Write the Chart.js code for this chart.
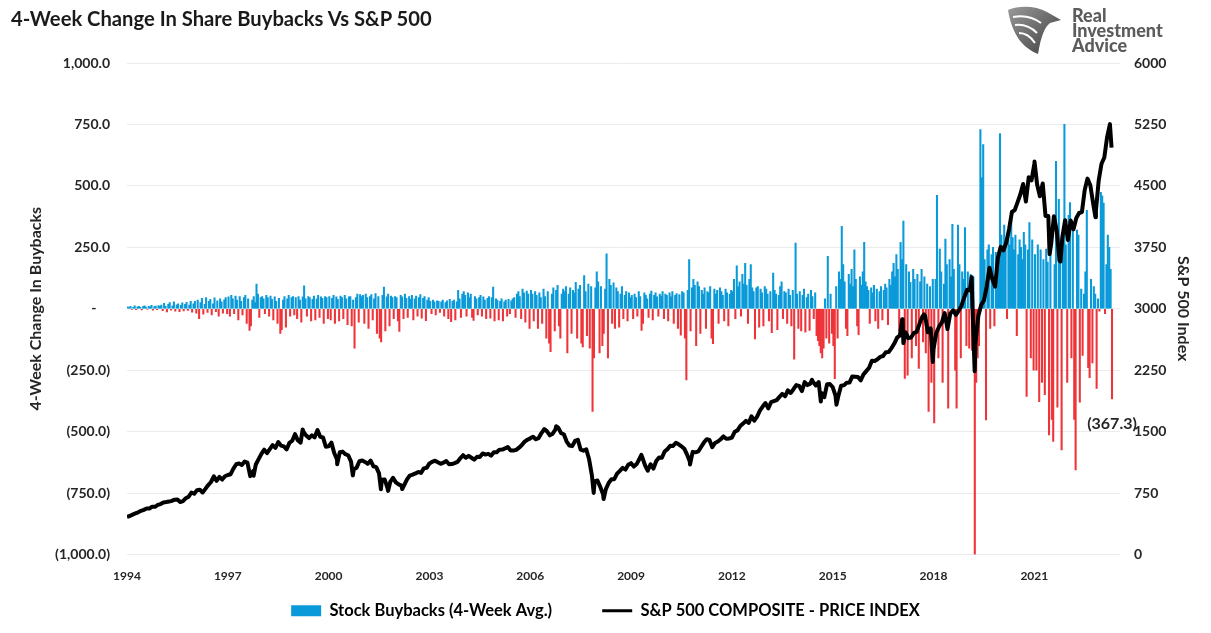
<!DOCTYPE html>
<html>
<head>
<meta charset="utf-8">
<title>4-Week Change In Share Buybacks Vs S&amp;P 500</title>
<script src="https://cdn.jsdelivr.net/npm/chart.js@4.4.1/dist/chart.umd.min.js"></script>
<style>
  html, body { margin: 0; padding: 0; background: #fff; }
  #wrap { position: relative; width: 1211px; height: 633px; overflow: hidden; font-family: Lato, "Open Sans", sans-serif; }
  #title { position: absolute; left: 11px; top: 6px; font-size: 20.2px; font-weight: 700; color: #1a1a1a; white-space: nowrap; }
  #logo { position: absolute; left: 1006px; top: 4px; display: flex; align-items: center; }
  #logo .txt { font-size: 18px; font-weight: 900; color: #5c5c5c; line-height: 15px; margin-left: 10px; }
  canvas { position: absolute; left: 0; top: 0; }
</style>
</head>
<body>
<div id="wrap">
  <canvas id="chart" width="1211" height="633"></canvas>
  <div id="title">4-Week Change In Share Buybacks Vs S&amp;P 500</div>
  <div id="logo">
    <svg width="56" height="52" viewBox="0 0 56 52">
      <defs>
        <linearGradient id="eg" x1="0" y1="0" x2="1" y2="1">
          <stop offset="0" stop-color="#9a9a9a"/>
          <stop offset="1" stop-color="#3c3c3c"/>
        </linearGradient>
      </defs>
      <path d="M2 6 C14 1 30 2 41 8 L55 16 L44 19 C39 23 35 31 32 50 C17 44 6 31 2 6 Z" fill="url(#eg)"/>
      <path d="M7 13 C17 11 27 13 35 19 M9 21 C17 20 25 23 31 29 M13 29 C19 29 25 33 29 39" stroke="#fff" stroke-width="2" fill="none"/>
    </svg>
    <div class="txt">Real<br>Investment<br>Advice</div>
  </div>
</div>

<script>
// x axis labels as printed on the reference
const xLabels = ['1994', '1997', '2000', '2003', '2006', '2009', '2012', '2015', '2018', '2021'];

// 4-week change in buybacks, two readings per month, Jan 1995 .. Apr 2024
const buybacks = [
  8, 5, 10, -3, 6, 12, -4, 8, 10, 6, -5, 9, 12, 7, -3, 10, 8, 14, -6, 9, 11, -4, 13, 10,
  15, -8, 22, 10, -13, 18, 25, -6, 12, 28, -10, 16, 20, -12, 14, 24, -9, 18, 26, -7, 15, 30, -14, 20,
  30, -18, 35, -40, 25, 42, -22, 18, 45, -15, 30, 38, -25, 20, 44, -12, 32, -30, 40, 28, -18, 36, 45, -20,
  48, -30, 55, 40, -20, 52, 35, -45, 50, 30, -25, 45, 55, -60, 40, -88, -70, 35, 50, 25, 100, 60, -35, 45,
  50, 40, -20, 55, 45, -30, 52, 38, -45, 48, 30, -60, 42, -100, -85, 35, 50, -75, 40, 55, -30, 45, 50, -25,
  45, -40, 50, 35, -55, 48, 93, 40, -30, 50, 45, -50, 38, 52, -45, 40, 55, -35, 48, 42, -60, 50, 45, -40,
  50, -45, 42, 55, -60, 48, 38, -50, 52, 45, -40, 55, 40, -65, 48, 50, -70, 35, -160, 45, 60, -55, 58, 50,
  55, -60, 60, 45, -80, 50, 58, -45, 40, 62, -100, 50, -120, -135, 55, 88, -90, 48, 60, -70, 52, 45, -40, 50,
  45, -50, -92, 55, 48, -40, 60, 42, -35, 50, 38, 55, -45, 40, 52, -30, 45, 58, -38, 42, 50, -48, 35, 45,
  30, -20, 35, 28, -25, 32, 30, -15, 28, 35, -30, 25, 32, -40, 38, -53, 30, 35, -45, 28, 75, 40, -35, 60,
  70, 55, -30, 65, 45, 60, -35, -47, 50, 40, -25, 45, 55, -30, 48, 35, -40, 42, 50, -38, 45, 88, -50, 40,
  35, -45, 30, 40, -50, 28, 35, -30, 38, -20, 32, 40, 45, -35, 60, 70, 50, -40, 80, 65, -55, 72, 60, -80,
  75, 60, -50, 70, 55, -80, 65, 45, -60, 80, 50, -120, 70, -140, -175, 60, 85, -90, 75, 95, -70, -120, 60, 80,
  70, 90, -180, 60, 85, -100, 75, 65, 108, -120, 80, 95, -140, -155, 135, 70, -110, 100, -160, 90, -418, -200, 85, 150,
  110, -180, 90, -150, -100, 80, 223, -200, 120, 95, -60, 105, -80, 85, 70, -75, 60, 90, -40, 55, 70, -50, 65, 45,
  55, -40, 60, 45, -30, 70, 50, -88, -60, 65, 55, 40, -35, 60, 72, -45, 55, 65, 48, -30, 60, 52, 70, -40,
  60, 55, -50, 65, 48, 70, -60, 55, 62, -80, 58, -108, 70, 65, -120, -290, 75, 200, -90, 85, 120, 95, -150, 110,
  90, -100, 75, 60, 85, -80, 70, 65, 90, -120, -142, 80, 60, 75, -60, 85, 70, 55, -50, 80, 65, -70, 60, 75,
  70, 120, -40, 175, 90, 110, -30, 140, 100, 185, 95, -60, 120, 180, 85, 70, -123, 85, 90, -75, 80, 65, -70, 90,
  80, 60, -50, 70, -97, 145, 75, 60, -85, 55, 90, 110, -40, 70, 65, -60, 80, 55, -70, 75, -205, 267, 60, -80,
  70, -90, 55, 80, -95, 45, 60, -88, 75, 50, -40, 65, -110, -130, -150, -180, -200, -160, 40, -120, 213, -140, 60, -100,
  -150, -285, 90, -120, 150, 120, 335, 180, 110, -80, -110, 140, 100, 160, 90, 240, 120, -70, -105, 130, 95, 150, 270, 110,
  90, 75, -60, 85, 65, 95, -50, 80, -80, 70, 90, -45, 75, 100, 85, -65, 120, 95, 150, 185, 130, 220, 160, -90,
  270, 200, 357, -284, 180, -270, 150, 108, -200, 160, 120, -150, 140, -243, 110, 160, -135, 130, -180, 100, -418, 90, -300, 120,
  -465, 120, 462, -200, 243, 150, -300, 100, 284, 180, -405, 200, 130, 344, 160, -250, -405, 340, 180, -200, 150, 120, 330, -150,
  150, -160, 140, -170, 130, -1000, -300, -200, -150, 729, 534, 668, 200, -452, 240, 260, -80, 220, 250, -70, 230, 200, 210, 713,
  300, 250, 340, 280, -40, 320, 260, 380, 290, 240, 300, -110, 220, 280, 250, 200, 311, 260, -357, 240, 351, -200, 280, -250,
  220, -250, 260, -378, 240, -300, 200, -350, 243, 190, -513, 230, -450, -540, 180, 600, -400, 445, 220, -574, 300, 750, 260, -300,
  380, 432, -200, 350, -450, -656, 320, 300, -380, 80, -190, 60, 150, 400, -240, -280, 120, -220, 90, 60, -324, 40, -10, 474,
  460, 430, -20, 180, 300, 250, 160, -367.3
];

// S&P 500 month-end closes, Dec 1994 .. Mar 2024
const spxMonthEnd = [
  459,
  470, 487, 501, 515, 533, 545, 562, 562, 584, 582, 605, 616,
  636, 640, 646, 654, 669, 671, 640, 652, 687, 705, 757, 741,
  786, 791, 757, 801, 848, 885, 954, 899, 947, 915, 955, 970,
  980, 1049, 1102, 1112, 1091, 1134, 1121, 957, 1017, 1099, 1164, 1229,
  1280, 1238, 1286, 1335, 1302, 1373, 1329, 1320, 1283, 1363, 1389, 1469,
  1394, 1366, 1499, 1452, 1421, 1455, 1431, 1518, 1437, 1429, 1315, 1320,
  1366, 1240, 1160, 1249, 1256, 1224, 1211, 1134, 1041, 1060, 1139, 1148,
  1130, 1107, 1147, 1077, 1067, 990, 912, 916, 815, 886, 936, 880,
  856, 841, 848, 917, 964, 975, 990, 1008, 996, 1051, 1058, 1112,
  1131, 1145, 1126, 1107, 1121, 1141, 1102, 1104, 1115, 1130, 1174, 1212,
  1181, 1204, 1181, 1157, 1192, 1191, 1234, 1220, 1229, 1207, 1249, 1248,
  1280, 1281, 1295, 1311, 1270, 1270, 1277, 1304, 1336, 1378, 1401, 1418,
  1438, 1407, 1421, 1482, 1531, 1503, 1455, 1474, 1527, 1549, 1481, 1468,
  1379, 1331, 1323, 1386, 1400, 1280, 1267, 1283, 1165, 969, 896, 903,
  826, 735, 798, 873, 919, 919, 987, 1021, 1057, 1036, 1096, 1115,
  1074, 1104, 1169, 1187, 1089, 1031, 1102, 1049, 1141, 1183, 1181, 1258,
  1286, 1327, 1326, 1364, 1345, 1321, 1292, 1219, 1131, 1253, 1247, 1258,
  1312, 1366, 1408, 1398, 1310, 1362, 1379, 1407, 1441, 1412, 1416, 1426,
  1498, 1515, 1569, 1598, 1631, 1606, 1686, 1633, 1682, 1757, 1806, 1848,
  1783, 1859, 1872, 1884, 1924, 1960, 1931, 2003, 1972, 2018, 2068, 2059,
  1995, 2105, 2068, 2086, 2107, 2063, 2104, 1972, 1920, 2079, 2080, 2044,
  1940, 1932, 2060, 2065, 2097, 2099, 2174, 2171, 2168, 2126, 2199, 2239,
  2279, 2364, 2363, 2384, 2412, 2423, 2470, 2472, 2519, 2575, 2648, 2674,
  2824, 2714, 2641, 2648, 2705, 2718, 2816, 2902, 2914, 2712, 2760, 2507,
  2704, 2784, 2834, 2946, 2752, 2942, 2980, 2926, 2977, 3038, 3141, 3231,
  3226, 2954, 2585, 2912, 3044, 3100, 3271, 3500, 3363, 3270, 3622, 3756,
  3714, 3811, 3973, 4181, 4204, 4298, 4395, 4523, 4308, 4605, 4567, 4766,
  4516, 4374, 4530, 4132, 4132, 3785, 4130, 3955, 3586, 3872, 4080, 3840,
  4077, 3970, 4109, 4169, 4180, 4450, 4589, 4508, 4288, 4194, 4568, 4770,
  4846, 5096, 5254
];

// intra-month highs and lows that show in the weekly line
const spxTurns = [
  ['1998-10-08', 960], ['2000-03-24', 1527], ['2000-09-01', 1520], ['2001-04-04', 1103],
  ['2001-09-21', 966], ['2002-07-23', 797], ['2002-10-09', 777], ['2003-03-11', 800],
  ['2007-10-09', 1565], ['2008-11-20', 752], ['2009-03-09', 677], ['2010-04-23', 1217],
  ['2010-07-02', 1022], ['2011-10-03', 1099], ['2015-05-21', 2131], ['2015-08-25', 1868],
  ['2016-02-11', 1829], ['2018-01-26', 2873], ['2018-02-08', 2581], ['2018-09-20', 2931],
  ['2018-12-24', 2351], ['2020-02-19', 3386], ['2020-03-23', 2237], ['2022-01-03', 4797],
  ['2022-06-16', 3667], ['2022-10-12', 3577], ['2023-10-27', 4117], ['2024-04-19', 4967]
];

const BLUE = '#0a9ad9';
const RED = '#ef3439';
const TEXT = '#262626';

function yearFrac(s) {
  const [y, m, d] = s.split('-').map(Number);
  return y + (Date.UTC(y, m - 1, d) - Date.UTC(y, 0, 1)) / (365 * 86400000);
}

// accounting style labels: (250.0), -, 1,000.0
function fmt(v) {
  if (v === 0) return '-    ';
  const s = Math.abs(v).toLocaleString('en-US', { minimumFractionDigits: 1, maximumFractionDigits: 1 });
  return v < 0 ? '(' + s + ')' : s;
}

const barPoints = buybacks.map((v, i) => ({ x: 1995 + (i + 0.5) / 24, y: v }));
const spxPoints = spxMonthEnd
  .map((v, i) => ({ x: 1995 + i / 12, y: v }))
  .concat(spxTurns.map(([d, v]) => ({ x: yearFrac(d), y: v })))
  .sort((a, b) => a.x - b.x);

// label for the latest reading
const lastBarLabel = {
  id: 'lastBarLabel',
  afterDatasetsDraw(chart) {
    const meta = chart.getDatasetMeta(0);
    const el = meta.data[meta.data.length - 1];
    const ctx = chart.ctx;
    ctx.save();
    ctx.font = 'bold 16px Lato';
    ctx.fillStyle = TEXT;
    ctx.textAlign = 'center';
    ctx.textBaseline = 'middle';
    ctx.fillText(fmt(buybacks[buybacks.length - 1]), el.x, el.y + 25);
    ctx.restore();
  }
};

Chart.defaults.font.family = 'Lato';
Chart.defaults.color = TEXT;

new Chart(document.getElementById('chart'), {
  data: {
    datasets: [
      {
        type: 'bar',
        label: 'Stock Buybacks (4-Week Avg.)',
        data: barPoints,
        yAxisID: 'y',
        order: 2,
        backgroundColor: (c) => (c.raw && c.raw.y < 0 ? RED : BLUE),
        barThickness: 1.4,
        borderWidth: 0,
      },
      {
        type: 'line',
        label: 'S&P 500 COMPOSITE - PRICE INDEX',
        data: spxPoints,
        yAxisID: 'y2',
        order: 1,
        borderColor: '#000',
        borderWidth: 4,
        borderJoinStyle: 'round',
        pointRadius: 0,
        tension: 0,
      },
    ],
  },
  options: {
    responsive: false,
    animation: false,
    layout: { padding: { top: 63, left: 0, right: 0, bottom: 4 } },
    scales: {
      x: {
        type: 'linear',
        offset: false,
        min: 1995,
        max: 2024.55,
        grid: { display: false, drawTicks: false },
        border: { display: false },
        afterBuildTicks: (s) => {
          s.ticks = xLabels.map((t, k) => ({ value: 1995 + 3 * k }));
        },
        afterFit: (s) => { s.height = 38; },
        ticks: {
          autoSkip: false,
          maxRotation: 0,
          padding: 14,
          font: { size: 12, weight: 'bold' },
          callback: (v, i) => xLabels[i],
        },
      },
      y: {
        position: 'left',
        min: -1000,
        max: 1000,
        afterFit: (s) => { s.width = 127; },
        grid: { color: '#ebebeb', drawTicks: false },
        border: { display: false },
        ticks: { stepSize: 250, padding: 17, font: { size: 14, weight: 'bold' }, callback: fmt },
        title: {
          display: true,
          text: '4-Week Change In Buybacks',
          font: { size: 16, weight: 'bold' },
          padding: { top: 26, bottom: 0 },
        },
      },
      y2: {
        position: 'right',
        min: 0,
        max: 6000,
        afterFit: (s) => { s.width = 91; },
        grid: { display: false, drawTicks: false },
        border: { display: false },
        ticks: { stepSize: 750, padding: 14, font: { size: 14, weight: 'bold' }, callback: (v) => String(v) },
        title: {
          display: true,
          text: 'S&P 500 Index',
          font: { size: 16, weight: 'bold' },
          padding: { top: 18, bottom: 0 },
        },
      },
    },
    plugins: {
      tooltip: { enabled: false },
      legend: {
        position: 'bottom',
        labels: {
          usePointStyle: true,
          pointStyleWidth: 30,
          boxHeight: 11,
          padding: 10,
          color: TEXT,
          font: { size: 16.5, weight: 'bold' },
          generateLabels: () => [
            // trailing spaces widen the gap between the two entries
            { text: 'Stock Buybacks (4-Week Avg.)          ', fillStyle: BLUE, strokeStyle: BLUE, lineWidth: 0, pointStyle: 'rect', datasetIndex: 0 },
            { text: 'S&P 500 COMPOSITE - PRICE INDEX', fillStyle: '#000', strokeStyle: '#000', lineWidth: 3, pointStyle: 'line', datasetIndex: 1 },
          ],
        },
      },
    },
  },
  plugins: [lastBarLabel],
});
</script>
</body>
</html>
